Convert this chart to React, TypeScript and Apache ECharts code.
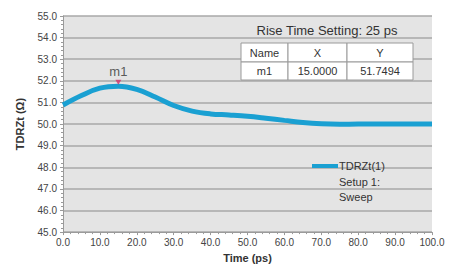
import React, { useEffect, useRef } from "react";
import * as echarts from "echarts";

const timePs = [0, 5, 10, 15, 20, 25, 30, 35, 40, 45, 50, 55, 60, 65, 70, 75, 80, 85, 90, 95, 100];
const tdrValues = [50.88, 51.32, 51.66, 51.75, 51.6, 51.25, 50.86, 50.6, 50.47, 50.42, 50.36, 50.27, 50.17, 50.07, 50.01, 49.99, 50.0, 50.0, 50.0, 50.0, 50.0];
const markerName = "m1";
const markerX = 15.0;
const markerY = 51.7494;
const tableHeaders = ["Name", "X", "Y"];
const tableRow = [markerName, markerX.toFixed(4), markerY.toFixed(4)];
const titleText = "Rise Time Setting: 25 ps";
const legendLines = ["TDRZt(1)", "Setup 1:", "Sweep"];

export default function App() {
  const ref = useRef<HTMLDivElement>(null);
  useEffect(() => {
    if (!ref.current) return;
    const chart = echarts.init(ref.current, null, { renderer: "svg" });
    const font = "'Liberation Sans', Arial, sans-serif";
    const colX = [241, 288, 347, 413];
    const rowY = [43, 62, 80];
    const tableEls: any[] = [];
    for (let r = 0; r < 2; r++) {
      for (let c = 0; c < 3; c++) {
        tableEls.push({
          type: "rect",
          shape: { x: colX[c], y: rowY[r], width: colX[c + 1] - colX[c], height: rowY[r + 1] - rowY[r] },
          style: { fill: "#ffffff", stroke: "#9a9a9a", lineWidth: 1 },
          z: 10,
        });
        const txt = r === 0 ? tableHeaders[c] : tableRow[c];
        tableEls.push({
          type: "text",
          x: (colX[c] + colX[c + 1]) / 2,
          y: (rowY[r] + rowY[r + 1]) / 2,
          style: { text: txt, fill: "#333", font: `11px ${font}`, align: "center", verticalAlign: "middle" },
          z: 11,
        });
      }
    }
    chart.setOption({
      animation: false,
      grid: { left: 63, top: 16, right: 27, bottom: 30, show: true, backgroundColor: "#e4e4e4", borderWidth: 0 },
      xAxis: {
        type: "value",
        min: 0,
        max: 100,
        interval: 10,
        name: "Time (ps)",
        nameLocation: "middle",
        nameGap: 16,
        nameTextStyle: { fontFamily: font, fontWeight: "bold", fontSize: 11, color: "#333" },
        axisLine: { show: true, lineStyle: { color: "#9a9a9a" } },
        axisTick: { show: true, length: 3, lineStyle: { color: "#9a9a9a" } },
        minorTick: { show: true, splitNumber: 5, length: 2, lineStyle: { color: "#9a9a9a" } },
        axisLabel: { fontFamily: font, fontSize: 10, color: "#444", margin: 5, formatter: (v: number) => v.toFixed(1) },
        splitLine: { show: false },
      },
      yAxis: {
        type: "value",
        min: 45,
        max: 55,
        interval: 1,
        name: "TDRZt (Ω)",
        nameLocation: "middle",
        nameGap: 38,
        nameTextStyle: { fontFamily: font, fontWeight: "bold", fontSize: 11, color: "#333" },
        axisLine: { show: true, lineStyle: { color: "#9a9a9a" } },
        axisTick: { show: true, length: 3, lineStyle: { color: "#9a9a9a" } },
        minorTick: { show: true, splitNumber: 5, length: 2, lineStyle: { color: "#9a9a9a" } },
        axisLabel: { fontFamily: font, fontSize: 10, color: "#444", margin: 6, formatter: (v: number) => v.toFixed(1) },
        splitLine: { show: true, lineStyle: { color: "#a8a8a8", width: 1.5 } },
      },
      series: [
        {
          type: "line",
          data: timePs.map((t, i) => [t, tdrValues[i]]),
          smooth: 0.4,
          showSymbol: false,
          lineStyle: { color: "#1aa0d2", width: 5 },
          itemStyle: { color: "#1aa0d2" },
          z: 3,
        },
        {
          type: "scatter",
          data: [[markerX, markerY]],
          symbol: "triangle",
          symbolRotate: 180,
          symbolSize: [6, 5],
          symbolOffset: [0, -4],
          itemStyle: { color: "#d2306a" },
          label: {
            show: true,
            position: "top",
            distance: 2,
            formatter: markerName,
            fontFamily: font,
            fontSize: 13,
            color: "#333",
          },
          z: 5,
        },
      ],
      graphic: [
        {
          type: "text",
          x: 327,
          y: 30,
          style: { text: titleText, fill: "#333", font: `13px ${font}`, align: "center", verticalAlign: "middle" },
          z: 11,
        },
        ...tableEls,
        {
          type: "line",
          shape: { x1: 312, y1: 166, x2: 338, y2: 166 },
          style: { stroke: "#1aa0d2", lineWidth: 4 },
          z: 11,
        },
        ...legendLines.map((t, i) => ({
          type: "text",
          x: 339,
          y: 166 + i * 15.5,
          style: { text: t, fill: "#333", font: `11px ${font}`, align: "left", verticalAlign: "middle" },
          z: 11,
        })),
      ],
    });
    return () => chart.dispose();
  }, []);
  return <div ref={ref} style={{ width: 459, height: 268, position: "absolute", left: 0, top: 0, background: "#fff" }} />;
}
